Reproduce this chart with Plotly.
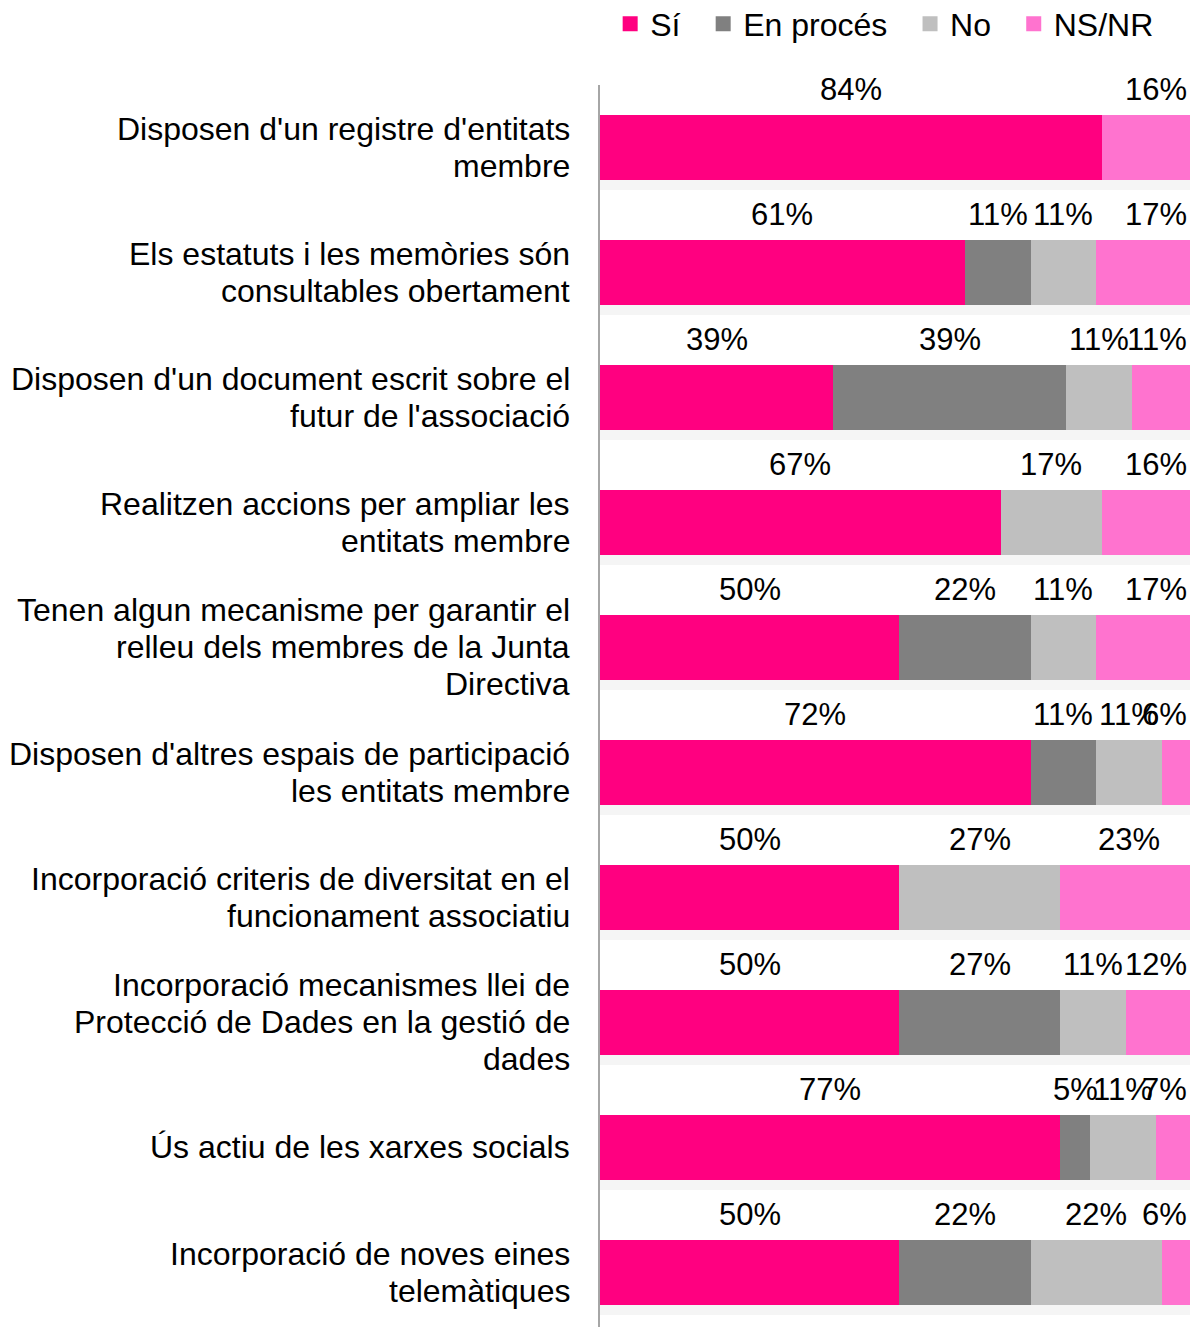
import plotly.graph_objs as go

# categories, top to bottom (each list item is one wrapped label line)
category_lines = [
    ["Disposen d'un registre d'entitats", "membre"],
    ["Els estatuts i les memòries són", "consultables obertament"],
    ["Disposen d'un document escrit sobre el", "futur de l'associació"],
    ["Realitzen accions per ampliar les", "entitats membre"],
    ["Tenen algun mecanisme per garantir el", "relleu dels membres de la Junta", "Directiva"],
    ["Disposen d'altres espais de participació", "les entitats membre"],
    ["Incorporació criteris de diversitat en el", "funcionament associatiu"],
    ["Incorporació mecanismes llei de", "Protecció de Dades en la gestió de", "dades"],
    ["Ús actiu de les xarxes socials"],
    ["Incorporació de noves eines", "telemàtiques"],
]
categories = [' '.join(lines) for lines in category_lines]

si = [84, 61, 39, 67, 50, 72, 50, 50, 77, 50]
en_proces = [0, 11, 39, 0, 22, 11, 0, 27, 5, 22]
no = [0, 11, 11, 17, 11, 11, 27, 11, 11, 22]
ns_nr = [16, 17, 11, 16, 17, 6, 23, 12, 7, 6]

legend_names = ['Sí', 'En procés', 'No', 'NS/NR']
colors = ['#FF0080', '#808080', '#BFBFBF', '#FF73CF']

FONT = 'Liberation Sans, Arial, sans-serif'
# the page body has an 8px margin, so the figure is sized to fit the window
W, H = 1190, 1319
NBSP = '\u00a0'

fig = go.Figure()

# soft drop shadow under each bar (base axis, drawn underneath)
totals = [a + b + c + d for a, b, c, d in zip(si, en_proces, no, ns_nr)]
for off, alpha in [(-0.18, 0.04), (-0.205, 0.07), (-0.23, 0.10)]:
    fig.add_trace(go.Bar(
        x=totals, y=categories, orientation='h',
        width=0.52, offset=off,
        marker=dict(color='rgba(0,0,0,%s)' % alpha, line=dict(width=0)),
        showlegend=False, hoverinfo='skip', yaxis='y',
    ))

annotations = []
cum = [0] * len(categories)
for name, vals, color in zip(legend_names, [si, en_proces, no, ns_nr], colors):
    fig.add_trace(go.Bar(
        x=vals, y=categories, orientation='h', name=name,
        width=0.52,
        marker=dict(color=color, line=dict(width=0)),
        yaxis='y2', showlegend=False,
    ))
    # legend entry with a bigger square swatch
    fig.add_trace(go.Scatter(
        x=[None], y=[None], mode='markers', name=name + NBSP * 2,
        marker=dict(symbol='square', size=15, color=color),
        yaxis='y2',
    ))
    for i, v in enumerate(vals):
        if v > 0:
            mid = cum[i] + v / 2
            lab = dict(
                y=categories[i], xref='x', yref='y',
                text='%d%%' % v, showarrow=False, yshift=58,
                font=dict(size=31, color='black', family=FONT),
            )
            if mid > 90:
                # keep labels at the right edge inside the chart
                lab.update(x=100, xanchor='right', xshift=-9)
            else:
                lab.update(x=mid, xanchor='center')
            annotations.append(lab)
        cum[i] += v

# category labels, right-aligned left of the axis
line_h = 37
for cat, lines in zip(categories, category_lines):
    n = len(lines)
    for k, txt in enumerate(lines):
        annotations.append(dict(
            x=0, xref='paper', xanchor='right', xshift=-28,
            y=cat, yref='y', yanchor='middle',
            yshift=((n - 1) / 2 - k) * line_h,
            text=txt, showarrow=False, align='right',
            font=dict(size=32, color='black', family=FONT),
        ))

top = 77
yrange = [-0.496 + (H - top) / 125, -0.496]

fig.update_layout(
    barmode='stack',
    width=W, height=H,
    margin=dict(l=592, r=0, t=top, b=0, autoexpand=False),
    paper_bgcolor='white',
    plot_bgcolor='white',
    font=dict(family=FONT, size=31, color='black'),
    xaxis=dict(range=[0, 100], visible=False, fixedrange=True, automargin=False),
    yaxis=dict(
        range=yrange, categoryorder='array', categoryarray=categories,
        showline=True, linecolor='#A6A6A6', linewidth=2,
        showgrid=False, zeroline=False,
        ticks='', showticklabels=False, automargin=False,
    ),
    yaxis2=dict(
        range=yrange, overlaying='y', visible=False,
        categoryorder='array', categoryarray=categories,
        showgrid=False, zeroline=False, automargin=False,
    ),
    legend=dict(
        orientation='h',
        x=0.017, xanchor='left',
        yref='container', y=1 - 16 / H, yanchor='middle',
        font=dict(size=32, color='black', family=FONT),
        itemwidth=30,
        traceorder='normal',
    ),
    annotations=annotations,
)

fig.write_html("out.html")
